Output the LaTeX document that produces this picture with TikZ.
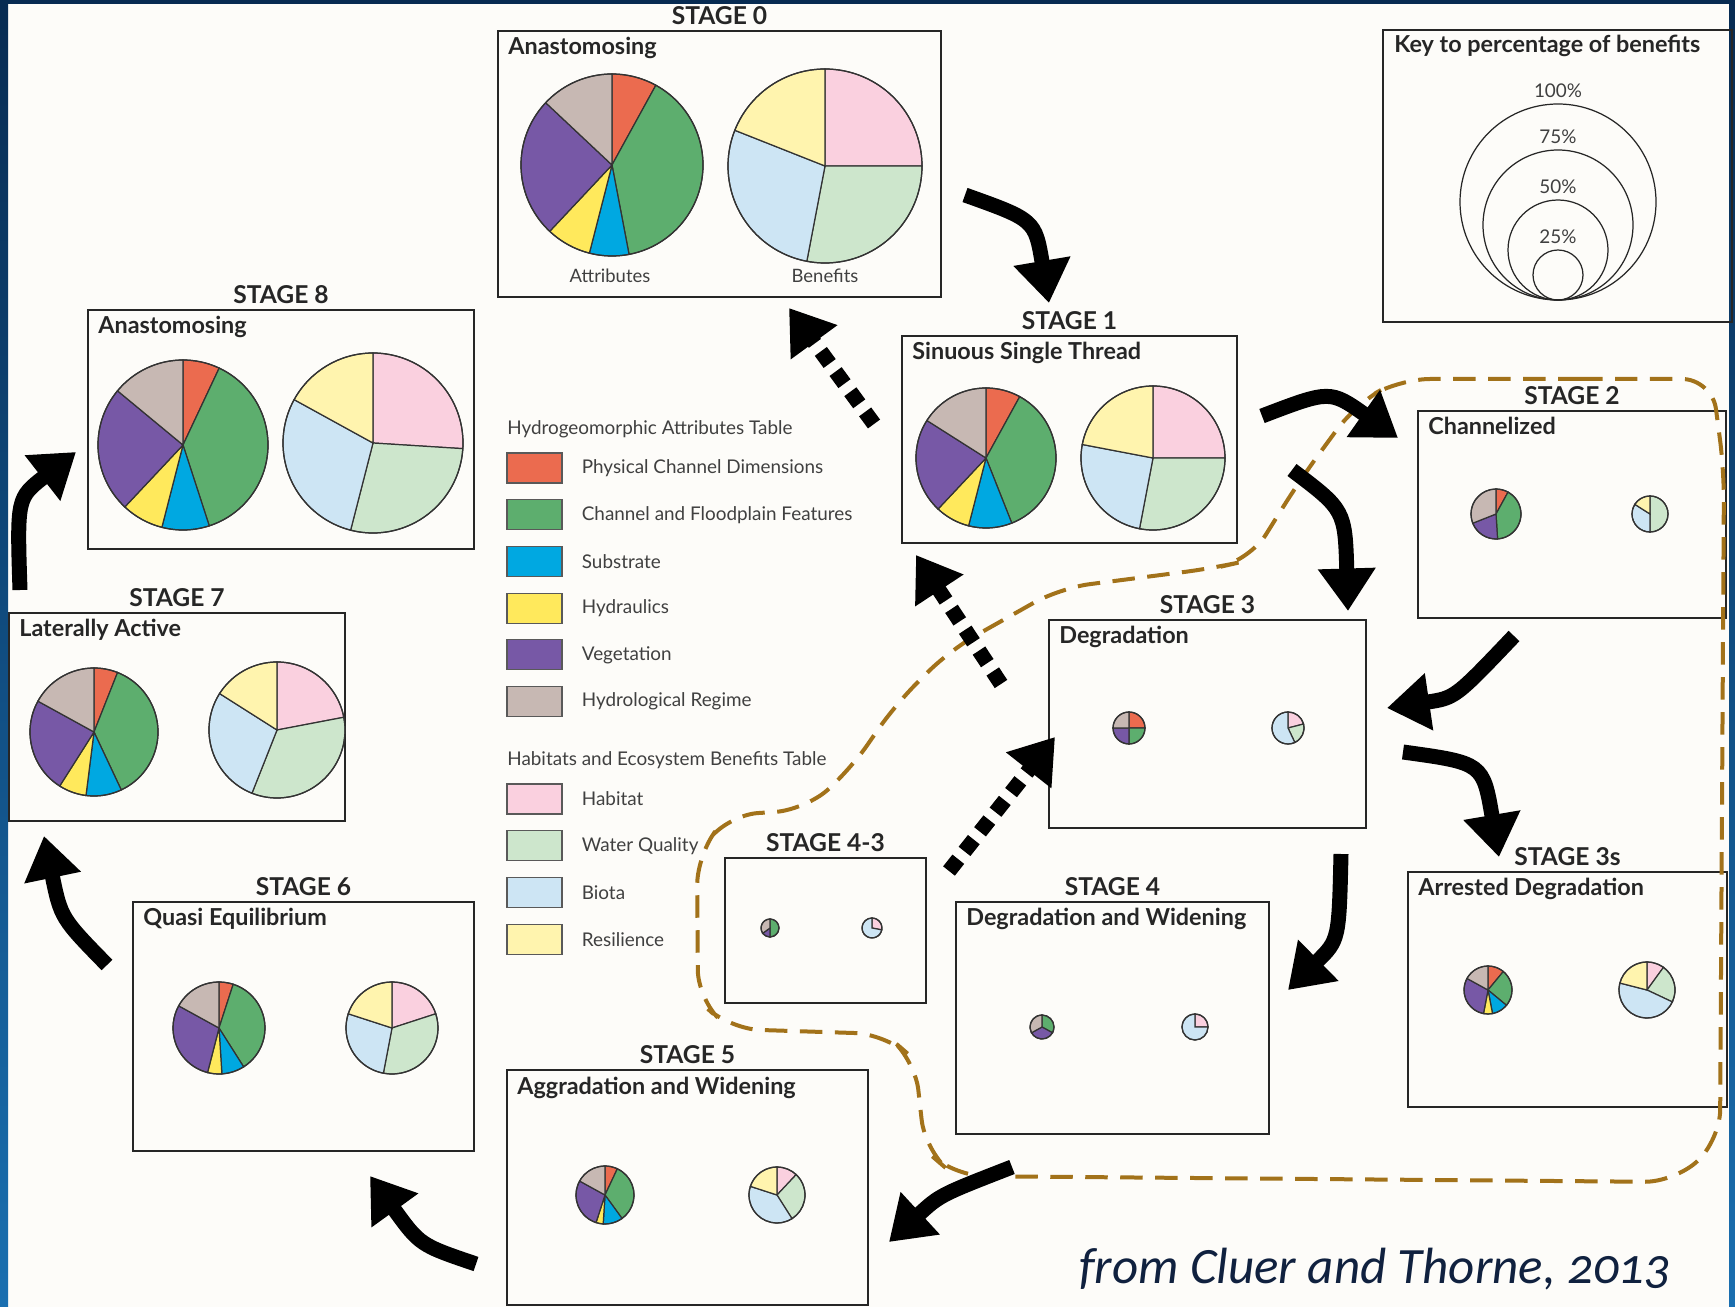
\documentclass[tikz,border=0pt]{standalone}
\usepackage{fontspec}
\setmainfont{Lato}
\newfontfamily\citefont[Numbers=OldStyle]{Carlito}
\usetikzlibrary{arrows.meta,positioning}

\definecolor{physred}{HTML}{EB6B4F}
\definecolor{chanfeat}{HTML}{5DAE6E}
\definecolor{substrate}{HTML}{00A8E1}
\definecolor{hydraulics}{HTML}{FFE95C}
\definecolor{vegetation}{HTML}{7758A6}
\definecolor{hydroregime}{HTML}{C7B8B3}
\definecolor{habitat}{HTML}{FAD0DF}
\definecolor{waterq}{HTML}{CDE6CC}
\definecolor{biota}{HTML}{CDE5F4}
\definecolor{resilience}{HTML}{FFF4AE}
\definecolor{dashbrown}{HTML}{A2721A}
\definecolor{navy}{HTML}{072B52}
\definecolor{edgeblue}{HTML}{1A6FB0}
\definecolor{paper}{HTML}{FDFCF9}
\definecolor{citeblue}{HTML}{10213F}

% camembert : x, y, rayon, liste part/couleur (depart a midi, sens horaire)
\newcommand{\drawpie}[4]{%
  \gdef\piestart{-90}%
  \foreach \share/\col in {#4} {%
    \pgfmathsetmacro\pieend{\piestart+3.6*\share}%
    \filldraw[pieline, fill=\col] (#1,#2) -- ++(\piestart:#3) arc[start angle=\piestart, end angle=\pieend, radius=#3] -- cycle;
    \xdef\piestart{\pieend}%
  }%
  \draw[pieline] (#1,#2) circle[radius=#3];
}

\begin{document}
\begin{tikzpicture}[x=0.02cm, y=-0.02cm,
  stagebox/.style={draw=black!85, line width=0.05cm, inner sep=0pt, outer sep=0pt},
  stagelabel/.style={font=\fontsize{14}{16}\selectfont\bfseries, text=black!85, anchor=base, inner sep=0pt},
  stagetitle/.style={font=\fontsize{13.3}{15}\selectfont\bfseries, text=black!85, anchor=base west, inner sep=0pt},
  pieline/.style={draw=black!80, line width=0.7pt},
  swatch/.style={draw=black!65, line width=0.6pt, minimum width=1.1cm, minimum height=0.6cm, inner sep=0pt},
  legendtext/.style={font=\fontsize{10.75}{13}\selectfont, text=black!75, inner sep=0pt},
  keyring/.style={draw=black!85, line width=0.7pt},
  bigarrow/.style={line width=0.3cm, -{Triangle[length=0.85cm,width=1.1cm]}},
  dasharrow/.style={bigarrow, dash pattern=on 0.3cm off 0.2cm},
  boundary/.style={draw=dashbrown, line width=0.08cm, dash pattern=on 0.45cm off 0.25cm, rounded corners=0.6cm},
]
  \useasboundingbox (0,0) rectangle (1735,1307);

  % Fond et bords
  \fill[paper] (0,0) rectangle (1735,1307);
  \shade[top color=navy, bottom color=edgeblue] (0,0) rectangle (8,1307);
  \shade[top color=navy, bottom color=edgeblue] (1729,0) rectangle (1735,1307);
  \fill[navy] (0,0) rectangle (1735,4);

  % Cadres des stades
  \foreach \nm/\x/\y/\w/\h/\lab/\ttl in {
    s0/498/31/443/266/STAGE 0/Anastomosing,
    s1/902/336/335/207/STAGE 1/Sinuous Single Thread,
    s2/1418/411/308/207/STAGE 2/Channelized,
    s3/1049/620/317/208/STAGE 3/Degradation,
    s3s/1408/872/319/235/STAGE 3s/Arrested Degradation,
    s43/725/858/201/145/STAGE 4-3/{},
    s4/956/902/313/232/STAGE 4/Degradation and Widening,
    s5/507/1070/361/235/STAGE 5/Aggradation and Widening,
    s6/133/902/341/249/STAGE 6/Quasi Equilibrium,
    s7/9/613/336/208/STAGE 7/Laterally Active,
    s8/88/310/386/239/STAGE 8/Anastomosing}
  {
    \node[stagebox, anchor=north west, minimum width=\w*0.02cm, minimum height=\h*0.02cm] (\nm) at (\x,\y) {};
    \node[stagelabel] (\nm-lab) at ([yshift=0.13cm]\nm.north) {\lab};
    \node[stagetitle] (\nm-ttl) at ([xshift=0.2cm,yshift=-0.48cm]\nm.north west) {\ttl};
  }
  \node[legendtext, font=\fontsize{10.5}{12}\selectfont] (attlab) at (610,276) {Attributes};
  \node[legendtext, font=\fontsize{10.5}{12}\selectfont] (benlab) at (825,276) {Benefits};

  % Camemberts
  \drawpie{612}{165}{91}{8/physred,39/chanfeat,7/substrate,8/hydraulics,25/vegetation,13/hydroregime}
  \drawpie{825}{166}{97}{25/habitat,28/waterq,28/biota,19/resilience}
  \drawpie{986}{458}{70}{8/physred,36/chanfeat,10/substrate,8/hydraulics,22/vegetation,16/hydroregime}
  \drawpie{1153}{458}{72}{25/habitat,28/waterq,25/biota,22/resilience}
  \drawpie{1496}{514}{25}{8/physred,41/chanfeat,20/vegetation,31/hydroregime}
  \drawpie{1650}{514}{18}{50/waterq,34/biota,16/resilience}
  \drawpie{1129}{728}{16}{25/physred,25/chanfeat,25/vegetation,25/hydroregime}
  \drawpie{1288}{728}{16}{21/habitat,22/waterq,57/biota}
  \drawpie{1488}{990}{24}{11/physred,25/chanfeat,11/substrate,6/hydraulics,30/vegetation,17/hydroregime}
  \drawpie{1647}{990}{28}{10/habitat,22/waterq,47/biota,21/resilience}
  \drawpie{770}{928}{9}{50/chanfeat,15/vegetation,35/hydroregime}
  \drawpie{872}{928}{10}{28/habitat,72/biota}
  \drawpie{1042}{1027}{12}{33/chanfeat,34/vegetation,33/hydroregime}
  \drawpie{1195}{1027}{13}{25/habitat,75/biota}
  \drawpie{605}{1195}{29}{7/physred,33/chanfeat,11/substrate,4/hydraulics,28/vegetation,17/hydroregime}
  \drawpie{777}{1195}{28}{12/habitat,29/waterq,39/biota,20/resilience}
  \drawpie{219}{1028}{46}{5/physred,36/chanfeat,8/substrate,5/hydraulics,29/vegetation,17/hydroregime}
  \drawpie{392}{1028}{46}{20/habitat,33/waterq,27/biota,20/resilience}
  \drawpie{94}{732}{64}{6/physred,37/chanfeat,9/substrate,7/hydraulics,24/vegetation,17/hydroregime}
  \drawpie{277}{730}{68}{22/habitat,34/waterq,28/biota,16/resilience}
  \drawpie{183}{445}{85}{7/physred,38/chanfeat,9/substrate,8/hydraulics,24/vegetation,14/hydroregime}
  \drawpie{373}{443}{90}{26/habitat,28/waterq,29/biota,17/resilience}

  % Cle des pourcentages
  \node[stagebox, anchor=north west, minimum width=349*0.02cm, minimum height=292*0.02cm] (key) at (1383,30) {};
  \node[stagetitle] (key-ttl) at ([xshift=0.22cm,yshift=-0.46cm]key.north west) {Key to percentage of benefits};
  \foreach \r/\pc in {25/25, 50/50, 75/75, 98/100} {
    \draw[keyring] (1558,300-\r) circle[radius=\r];
    \node[legendtext, anchor=south] (key\pc) at (1558,300-2*\r-6) {\pc\%};
  }

  % Legende
  \node[legendtext, anchor=west] (atthead) at (507,429) {Hydrogeomorphic Attributes Table};
  \foreach \col/\txt [count=\i] in {physred/Physical Channel Dimensions, chanfeat/Channel and Floodplain Features, substrate/Substrate, hydraulics/Hydraulics, vegetation/Vegetation, hydroregime/Hydrological Regime} {
    \node[swatch, fill=\col] (att\i) at (534.5,{468+46.7*(\i-1)}) {};
    \node[legendtext, right=0.38cm of att\i] (att\i-txt) {\txt};
  }
  \node[legendtext, anchor=west] (benhead) at (507,760) {Habitats and Ecosystem Benefits Table};
  \foreach \col/\txt [count=\i] in {habitat/Habitat, waterq/Water Quality, biota/Biota, resilience/Resilience} {
    \node[swatch, fill=\col] (ben\i) at (534.5,{799+46.8*(\i-1)}) {};
    \node[legendtext, right=0.38cm of ben\i] (ben\i-txt) {\txt};
  }

  % Limite en tirets
  \draw[boundary] (1550,379) -- (1712,379) -- (1724,470) -- (1720,1140) -- (1675,1182)
    -- (955,1176) -- (925,1150) -- (915,1060) -- (885,1034) -- (730,1029) -- (698,1000)
    -- (697,855) -- (728,815) -- (805,810) -- (850,770) -- (895,705) -- (950,650)
    -- (1060,588) -- (1215,568) -- (1250,560) -- (1300,480) -- (1355,405) -- (1400,379) -- cycle;

  % Fleches
  \coordinate (a01) at (965,195);   \coordinate (c01) at (1035,220);  \coordinate (b01) at (1049,303);
  \coordinate (a12) at (1262,416);  \coordinate (c12) at (1330,390);  \coordinate (b12) at (1398,438);
  \coordinate (a13) at (1292,470);  \coordinate (c13) at (1345,510);  \coordinate (b13) at (1348,611);
  \coordinate (a23) at (1514,636);  \coordinate (c23) at (1455,698);  \coordinate (b23) at (1387,708);
  \coordinate (a33) at (1403,752);  \coordinate (c33) at (1483,763);  \coordinate (b33) at (1499,857);
  \coordinate (a34) at (1341,854);  \coordinate (c34) at (1339,940);  \coordinate (b34) at (1288,990);
  \coordinate (a45) at (1012,1167); \coordinate (c45) at (940,1195);  \coordinate (b45) at (889,1242);
  \coordinate (a56) at (476,1264);  \coordinate (c56) at (420,1245);  \coordinate (b56) at (370,1176);
  \coordinate (a67) at (107,965);   \coordinate (c67) at (61,918);    \coordinate (b67) at (44,836);
  \coordinate (a78) at (20,590);    \coordinate (c78) at (17,498);    \coordinate (b78) at (76,452);
  \draw[bigarrow] (a01) .. controls (c01) .. (b01);
  \draw[bigarrow] (a12) .. controls (c12) .. (b12);
  \draw[bigarrow] (a13) .. controls (c13) .. (b13);
  \draw[bigarrow] (a23) .. controls (c23) .. (b23);
  \draw[bigarrow] (a33) .. controls (c33) .. (b33);
  \draw[bigarrow] (a34) .. controls (c34) .. (b34);
  \draw[bigarrow] (a45) .. controls (c45) .. (b45);
  \draw[bigarrow] (a56) .. controls (c56) .. (b56);
  \draw[bigarrow] (a67) .. controls (c67) .. (b67);
  \draw[bigarrow] (a78) .. controls (c78) .. (b78);

  % Retours en pointilles
  \coordinate (a10) at (874,424);  \coordinate (b10) at (789,308);
  \coordinate (a31) at (1001,684); \coordinate (b31) at (916,555);
  \coordinate (a433) at (949,871); \coordinate (b433) at (1055,737);
  \draw[dasharrow] (a10) -- (b10);
  \draw[dasharrow] (a31) -- (b31);
  \draw[dasharrow] (a433) -- (b433);

  % Source
  \node[font=\citefont\itshape\fontsize{29}{32}\selectfont, text=citeblue, anchor=base east, inner sep=0pt] (cite) at (1671,1283) {from Cluer and Thorne, 2013};
\end{tikzpicture}
\end{document}
